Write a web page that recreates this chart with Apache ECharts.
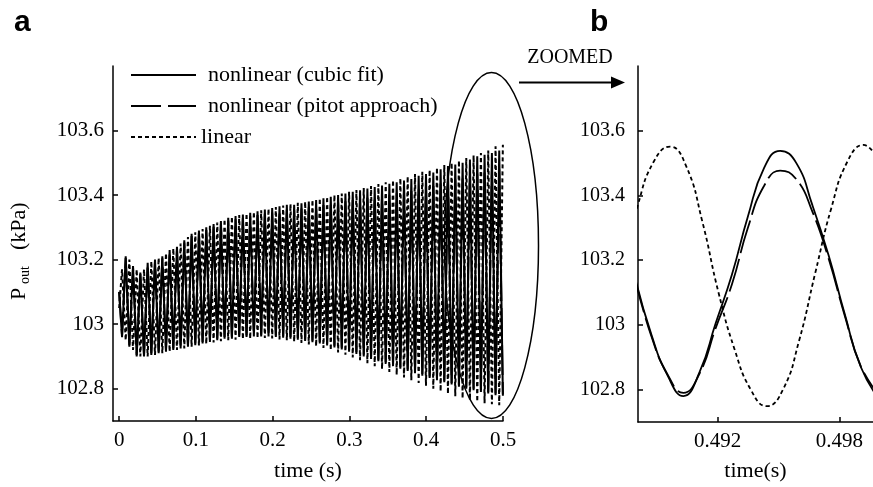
<!DOCTYPE html>
<html><head><meta charset="utf-8">
<script src="https://cdn.jsdelivr.net/npm/echarts@6/dist/echarts.min.js"></script>
<style>html,body{margin:0;padding:0;background:#fff}#c{width:873px;height:487px}</style>
</head><body><div id="c"></div>
<script>
const SERIF = '"Liberation Serif", "Times New Roman", serif';
const SANS = '"Liberation Sans", Arial, sans-serif';

// ---------- panel a (0 - 0.5 s): extrema of each half cycle ----------
const startTime = [0];
const cubicStart = [103.10];
const pitotStart = [103.10];
const linearStart = [103.05];

const leftPeakTimes = [0.00854,0.01808,0.02762,0.03716,0.04670,0.05624,0.06578,0.07532,0.08486,0.09440,
 0.10394,0.11348,0.12302,0.13256,0.14210,0.15164,0.16118,0.17072,0.18026,0.18980,
 0.19934,0.20888,0.21842,0.22796,0.23750,0.24704,0.25658,0.26612,0.27566,0.28520,
 0.29474,0.30428,0.31382,0.32336,0.33290,0.34244,0.35198,0.36152,0.37106,0.38060,
 0.39014,0.39968,0.40922,0.41876,0.42830,0.43784,0.44738,0.45692,0.46646,0.47600,
 0.48554,0.49508];
const leftTroughTimes = [0.00377,0.01331,0.02285,0.03239,0.04193,0.05147,0.06101,0.07055,0.08009,0.08963,
 0.09917,0.10871,0.11825,0.12779,0.13733,0.14687,0.15641,0.16595,0.17549,0.18503,
 0.19457,0.20411,0.21365,0.22319,0.23273,0.24227,0.25181,0.26135,0.27089,0.28043,
 0.28997,0.29951,0.30905,0.31859,0.32813,0.33767,0.34721,0.35675,0.36629,0.37583,
 0.38537,0.39491,0.40445,0.41399,0.42353,0.43307,0.44261,0.45215,0.46169,0.47123,
 0.48077,0.49031,0.49985];

// nonlinear (cubic fit): peaks at leftPeakTimes, troughs at leftTroughTimes
const cubicPeaks = [103.21,103.18,103.16,103.19,103.20,103.21,103.23,103.24,103.26,103.28,
 103.29,103.30,103.31,103.32,103.33,103.335,103.34,103.345,103.35,103.355,
 103.36,103.365,103.37,103.37,103.375,103.38,103.385,103.39,103.395,103.40,
 103.405,103.41,103.415,103.42,103.425,103.43,103.435,103.44,103.445,103.45,
 103.46,103.465,103.47,103.48,103.49,103.495,103.50,103.51,103.52,103.525,
 103.53,103.538];
const cubicTroughs = [102.96,102.93,102.90,102.90,102.905,102.91,102.915,102.92,102.925,102.93,
 102.935,102.94,102.945,102.95,102.955,102.955,102.96,102.96,102.962,102.962,
 102.962,102.96,102.958,102.955,102.952,102.948,102.944,102.94,102.934,102.928,
 102.922,102.915,102.908,102.90,102.892,102.885,102.877,102.87,102.862,102.855,
 102.848,102.84,102.833,102.826,102.82,102.813,102.806,102.80,102.795,102.79,
 102.785,102.78,102.778];

// nonlinear (pitot approach)
const pitotPeaks = [103.205,103.175,103.155,103.185,103.195,103.204,103.224,103.234,103.253,103.273,
 103.283,103.292,103.302,103.311,103.321,103.325,103.329,103.334,103.338,103.342,
 103.346,103.35,103.355,103.354,103.358,103.362,103.366,103.369,103.373,103.377,
 103.381,103.385,103.388,103.392,103.396,103.399,103.403,103.406,103.41,103.413,
 103.421,103.425,103.428,103.436,103.445,103.448,103.451,103.459,103.467,103.47,
 103.473,103.479];
const pitotTroughs = [102.965,102.935,102.905,102.905,102.91,102.915,102.92,102.925,102.93,102.935,
 102.94,102.945,102.95,102.955,102.96,102.96,102.965,102.965,102.967,102.967,
 102.967,102.965,102.963,102.96,102.957,102.953,102.949,102.945,102.939,102.933,
 102.927,102.92,102.913,102.905,102.897,102.89,102.882,102.875,102.867,102.86,
 102.853,102.845,102.838,102.831,102.825,102.818,102.811,102.805,102.80,102.795,
 102.79,102.785,102.783];

// linear: (nearly anti-phase) peaks at leftTroughTimes, troughs at leftPeakTimes
const linearPeaks = [103.17,103.20,103.17,103.17,103.195,103.205,103.22,103.235,103.25,103.27,
 103.285,103.295,103.305,103.315,103.325,103.333,103.338,103.343,103.348,103.353,
 103.358,103.363,103.368,103.372,103.376,103.38,103.385,103.39,103.395,103.40,
 103.405,103.41,103.416,103.422,103.428,103.434,103.44,103.446,103.452,103.458,
 103.465,103.472,103.478,103.485,103.493,103.50,103.507,103.515,103.523,103.53,
 103.538,103.551,103.556];
const linearTroughs = [102.95,102.92,102.90,102.90,102.905,102.91,102.915,102.92,102.925,102.93,
 102.934,102.939,102.943,102.947,102.95,102.952,102.954,102.955,102.957,102.957,
 102.956,102.953,102.95,102.946,102.942,102.937,102.932,102.926,102.919,102.912,
 102.905,102.897,102.888,102.879,102.87,102.861,102.852,102.843,102.835,102.826,
 102.818,102.809,102.80,102.792,102.784,102.777,102.77,102.765,102.76,102.755,
 102.752,102.749];

// ---------- panel b (zoomed, 0.488 - 0.4997 s) ----------
const rightNonlinTimes = [0.48793,0.48873,0.48952,0.49031,0.49111,0.49190,0.49270,0.49349,
 0.49429,0.49508,0.49588,0.49667,0.49747,0.49826,0.49906,0.49995];
const rightCubic = [103.145,102.97,102.845,102.78,102.855,103.005,103.155,103.335,
 103.485,103.538,103.50,103.37,103.215,103.035,102.87,102.772];
const rightPitot = [103.14,102.965,102.848,102.79,102.85,102.99,103.125,103.30,
 103.43,103.477,103.45,103.35,103.205,103.03,102.872,102.785];
const rightLinearTimes = [0.48726,0.48806,0.48885,0.48965,0.49045,0.49124,0.49204,0.49283,0.49363,
 0.49442,0.49522,0.49601,0.49681,0.49760,0.49840,0.49919,0.49999];
const rightLinear = [103.17,103.37,103.505,103.551,103.49,103.32,103.10,102.925,102.80,
 102.749,102.80,102.95,103.16,103.36,103.505,103.556,103.50];

// ---------- ticks ----------
const leftXTicks = [0,0.1,0.2,0.3,0.4,0.5];
const rightXTicks = [0.492,0.498];
const yTicks = [102.8,103,103.2,103.4,103.6];

const names = ['nonlinear (cubic fit)','nonlinear (pitot approach)','linear'];

function interleave(t0, v0, troughT, troughV, peakT, peakV) {
  const out = [[t0[0], v0[0]]];
  for (let k = 0; k < troughT.length; k++) {
    out.push([troughT[k], troughV[k]]);
    if (k < peakT.length) out.push([peakT[k], peakV[k]]);
  }
  return out;
}
const zip = (a, b) => a.map((x, i) => [x, b[i]]);

const W1 = 2.0, W2 = 1.8;
const lsCubicL = {color:'#000', width:W1, type:'solid'};
const lsPitotL = {color:'#000', width:W1, type:[30,7]};
const lsLinearL = {color:'#000', width:W1, type:[4,3]};
const lsCubicR = {color:'#000', width:W2, type:'solid'};
const lsPitotR = {color:'#000', width:W2, type:[34,6]};
const lsLinearR = {color:'#000', width:W2, type:[4,3]};
const hideSym = {color:'rgba(0,0,0,0)', borderColor:'rgba(0,0,0,0)', borderWidth:0, opacity:0};

function axisCommon(ticks, fontSize, margin) {
  return {
    type:'value', scale:true,
    axisLine:{show:true, onZero:false, lineStyle:{color:'#000', width:1.5}},
    axisTick:{show:true, inside:true, length:5, customValues:ticks, lineStyle:{color:'#000', width:1.5}},
    axisLabel:{customValues:ticks, color:'#000', fontFamily:SERIF, fontSize:fontSize, margin:margin},
    splitLine:{show:false}
  };
}

const chart = echarts.init(document.getElementById('c'), null, {renderer:'canvas'});
const option = {
  animation:false,
  backgroundColor:'#fff',
  grid:[
    {left:113, top:66, width:390, height:358},
    {left:638, top:66, width:235, height:358}
  ],
  xAxis:[
    Object.assign(axisCommon(leftXTicks, 21, 9), {gridIndex:0, min:-0.008, max:0.5,
      name:'time (s)', nameLocation:'middle', nameGap:39,
      nameTextStyle:{color:'#000', fontFamily:SERIF, fontSize:22}}),
    Object.assign(axisCommon(rightXTicks, 21, 9), {gridIndex:1, min:0.48807, max:0.49966,
      name:'time(s)', nameLocation:'middle', nameGap:38,
      nameTextStyle:{color:'#000', fontFamily:SERIF, fontSize:22}})
  ],
  yAxis:[
    Object.assign(axisCommon(yTicks, 21, 9), {gridIndex:0, min:102.7, max:103.8}),
    Object.assign(axisCommon(yTicks, 20, 13), {gridIndex:1, min:102.7, max:103.8})
  ],
  legend:{
    orient:'vertical', left:130, top:64, padding:0, itemWidth:65, itemHeight:14, itemGap:9,
    selectedMode:false,
    itemStyle:hideSym,
    textStyle:{fontFamily:SERIF, fontSize:22, color:'#000', padding:[0,0,0,7]},
    data:[{name:names[0]},{name:names[1]},{name:names[2], textStyle:{padding:[0,0,0,0]}}]
  },
  series:[
    {name:names[0], type:'line', xAxisIndex:0, yAxisIndex:0, symbol:'none', lineStyle:lsCubicL,
     data:interleave(startTime, cubicStart, leftTroughTimes, cubicTroughs, leftPeakTimes, cubicPeaks)},
    {name:names[1], type:'line', xAxisIndex:0, yAxisIndex:0, symbol:'none', lineStyle:lsPitotL,
     data:interleave(startTime, pitotStart, leftTroughTimes, pitotTroughs, leftPeakTimes, pitotPeaks)},
    {name:names[2], type:'line', xAxisIndex:0, yAxisIndex:0, symbol:'none', lineStyle:lsLinearL,
     data:interleave(startTime, linearStart, leftTroughTimes, linearPeaks, leftPeakTimes, linearTroughs)},
    {name:names[0], type:'line', xAxisIndex:1, yAxisIndex:1, symbol:'none', smooth:true, lineStyle:lsCubicR,
     data:zip(rightNonlinTimes, rightCubic)},
    {name:names[1], type:'line', xAxisIndex:1, yAxisIndex:1, symbol:'none', smooth:true, lineStyle:lsPitotR,
     data:zip(rightNonlinTimes, rightPitot)},
    {name:names[2], type:'line', xAxisIndex:1, yAxisIndex:1, symbol:'none', smooth:true, lineStyle:lsLinearR,
     data:zip(rightLinearTimes, rightLinear)}
  ],
  graphic:[
    {type:'text', x:14, y:23, style:{text:'a', font:'bold 30px ' + SANS, fill:'#000', verticalAlign:'middle'}},
    {type:'text', x:590, y:23, style:{text:'b', font:'bold 30px ' + SANS, fill:'#000', verticalAlign:'middle'}},
    {type:'group', x:26.7, y:300, rotation:Math.PI/2, children:[
      {type:'text', x:0, y:-7.4, style:{text:'P', font:'22px ' + SERIF, fill:'#000', verticalAlign:'middle'}},
      {type:'text', x:16, y:-1.7, style:{text:'out', font:'14px ' + SERIF, fill:'#000', verticalAlign:'middle'}},
      {type:'text', x:50, y:-7.4, style:{text:'(kPa)', font:'22px ' + SERIF, fill:'#000', verticalAlign:'middle'}}
    ]},
    {type:'ellipse', shape:{cx:491.5, cy:245.5, rx:47, ry:173}, style:{fill:'none', stroke:'#000', lineWidth:1.5}, z:10},
    {type:'line', shape:{x1:519, y1:82.5, x2:613, y2:82.5}, style:{stroke:'#000', lineWidth:2}, z:10},
    {type:'polygon', shape:{points:[[611,76.5],[625,82.5],[611,88.5]]}, style:{fill:'#000'}, z:10},
    {type:'text', x:570, y:58, style:{text:'ZOOMED', font:'20px ' + SERIF, fill:'#000', align:'center', verticalAlign:'middle'}, z:10}
  ]
};
chart.setOption(option);
</script>
</body></html>
